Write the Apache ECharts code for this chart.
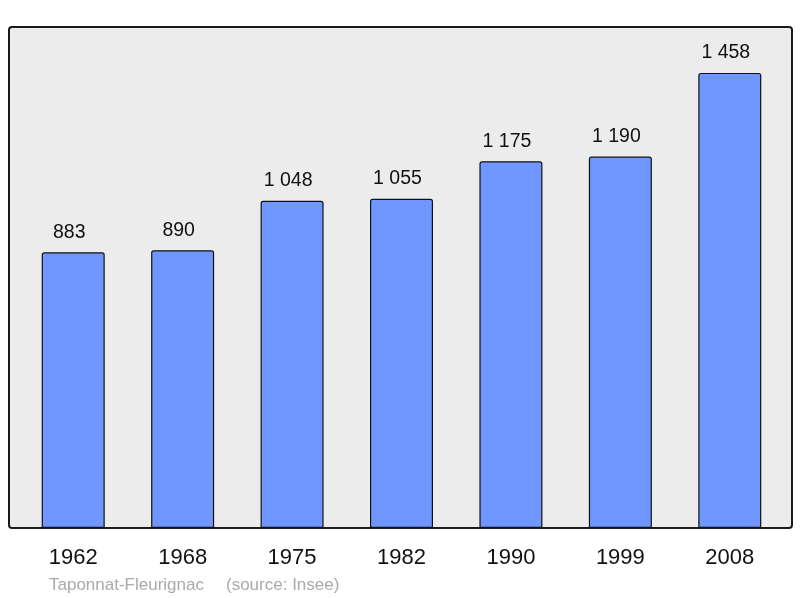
<!DOCTYPE html>
<html><head><meta charset="utf-8">
<script src="https://cdn.jsdelivr.net/npm/echarts@6/dist/echarts.min.js"></script>
<style>html,body{margin:0;padding:0;background:#fff}#c{width:800px;height:598px}</style>
</head><body><div id="c"></div>
<script>
var categories = ['1962','1968','1975','1982','1990','1999','2008'];
var population = [883, 890, 1048, 1055, 1175, 1190, 1458];
var labels = ['883','890','1 048','1 055','1 175','1 190','1 458'];

var chart = echarts.init(document.getElementById('c'), null, {renderer:'canvas'});
chart.setOption({
  animation: false,
  backgroundColor: '#ffffff',
  graphic: [{
    type: 'rect', z: -1,
    shape: {x: 9, y: 27, width: 783, height: 501, r: 3},
    style: {fill: '#ececec', stroke: '#1a1a1a', lineWidth: 2}
  }, {
    type: 'text', left: 49, top: 577,
    style: {text: 'Taponnat-Fleurignac', fill: '#aaaaaa', font: '17px "Liberation Sans", Arial, sans-serif'}
  }, {
    type: 'text', left: 226, top: 577,
    style: {text: '(source: Insee)', fill: '#aaaaaa', font: '17px "Liberation Sans", Arial, sans-serif'}
  }],
  grid: {left: 18.5, right: 15.5, top: 27, bottom: 70, containLabel: false},
  xAxis: {
    type: 'category', data: categories,
    axisLine: {show: false}, axisTick: {show: false},
    axisLabel: {color: '#111', fontSize: 22, fontFamily: '"Liberation Sans", Arial, sans-serif', margin: 19}
  },
  yAxis: {
    type: 'value', min: 0, max: 1605,
    show: false, splitLine: {show: false}
  },
  series: [{
    type: 'bar', data: population, barWidth: 63,
    itemStyle: {color: '#7097ff', borderColor: '#111', borderWidth: 1.2, borderRadius: [2,2,0,0]},
    label: {
      show: true, position: 'top', distance: 10, offset: [-4, 0],
      color: '#111', fontSize: 19.5, fontFamily: '"Liberation Sans", Arial, sans-serif',
      formatter: function(p){ return labels[p.dataIndex]; }
    }
  }]
});
</script></body></html>
